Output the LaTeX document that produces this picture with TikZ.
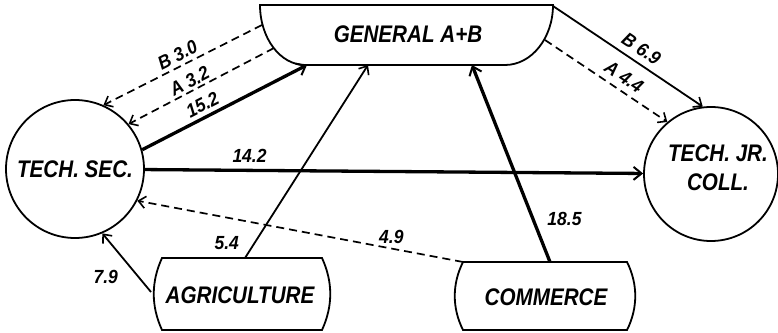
\documentclass[tikz,border=0pt]{standalone}
\usepackage{fontspec}
\setmainfont{Liberation Sans}
\newfontfamily\diagfont[FakeStretch=0.86]{Liberation Sans}
\newfontfamily\numfont[FakeStretch=0.92]{Liberation Sans}
\usetikzlibrary{arrows.meta,calc}
\begin{document}
\begin{tikzpicture}[x=1pt,y=-1pt,
  lbl/.style={font=\diagfont\fontsize{24}{29}\selectfont\bfseries\itshape, align=center, inner sep=0pt},
  num/.style={font=\numfont\fontsize{19}{21}\selectfont\bfseries\itshape, inner sep=1pt},
  arr/.style={-{Straight Barb[length=7pt,width=12pt,line width=1.6pt]}},
  arrthick/.style={-{Straight Barb[length=8pt,width=13pt,line width=2pt]}},
  heavy/.style={line width=3.3pt},
  light/.style={line width=1.8pt},
  dashline/.style={line width=1.7pt, dash pattern=on 8pt off 5pt},
  outline/.style={line width=1.8pt}]
\useasboundingbox (0,0) rectangle (778,332);

% nodes
\node[circle, draw, outline, minimum size=138pt, inner sep=0pt, lbl] (TS) at (75,169) {TECH. SEC.};
\node[circle, draw, outline, minimum size=134pt, inner sep=0pt] (TJ) at (711,174) {};
\node[lbl] (TJt) at (718,168) {TECH. JR.\\COLL.};

\node[minimum width=293pt, minimum height=60pt, inner sep=0pt, lbl] (G) at (408,34) {GENERAL A+B};
\draw[outline] (260,5) -- (553,5) .. controls (553,38) and (531.5,65) .. (505,65)
  -- (305,65) .. controls (280.2,65) and (260,38) .. (260,5) -- cycle;

\node[minimum width=160pt, minimum height=72pt, inner sep=0pt, lbl] (A) at (240,295) {AGRICULTURE};
\draw[outline] (162,258) -- (322,258) .. controls (333,282) and (333,306) .. (322,330)
  -- (162,330) .. controls (151,306) and (151,282) .. (162,258) -- cycle;

\node[minimum width=164pt, minimum height=68pt, inner sep=0pt, lbl] (C) at (546,297) {COMMERCE};
\draw[outline] (463,262) -- (627,262) .. controls (638,284) and (638,308) .. (627,330)
  -- (463,330) .. controls (452,308) and (452,284) .. (463,262) -- cycle;

% connection points
\coordinate (Gb) at (262,25);
\coordinate (Ga) at (274,48);
\coordinate (G15) at (307,65);
\coordinate (G54) at (368,65);
\coordinate (G185) at (472,65);
\coordinate (GB6) at (553,6);
\coordinate (GA4) at (545,40);
\coordinate (A54) at (245,258);
\coordinate (A79) at (151,292);
\coordinate (C185) at (550,262);
\coordinate (C49) at (463,262);

% connectors
\draw[dashline, arr] (Gb) -- (TS.66) node[midway, above=3pt, sloped, num] {B 3.0};
\draw[dashline, arr] (Ga) -- (TS.40) node[pos=0.55, above=1pt, sloped, num] {A 3.2};
\draw[heavy, arrthick] (TS.16) -- (G15) node[pos=0.4, above=3pt, sloped, num] {15.2};
\draw[heavy, arrthick] (TS) -- (TJ) node[pos=0.21, above=5pt, num] {14.2};
\draw[light, arr] (A54) -- (G54) node[pos=0.08, left=14pt, num] {5.4};
\draw[heavy, arrthick] (C185) -- (G185) node[pos=0.22, right=12pt, num] {18.5};
\draw[dashline, arr] (C49) -- (TS.-27) node[pos=0.22, above=3pt, num] {4.9};
\draw[light, arr] (A79) -- (TS.-67) node[pos=0.25, left=19pt, num] {7.9};
\draw[light, arr] (GB6) -- (TJ.97) node[pos=0.54, above=5pt, sloped, num] {B 6.9};
\draw[dashline, arr] (GA4) -- (TJ.130) node[pos=0.585, above=5pt, sloped, num] {A 4.4};
\end{tikzpicture}
\end{document}
